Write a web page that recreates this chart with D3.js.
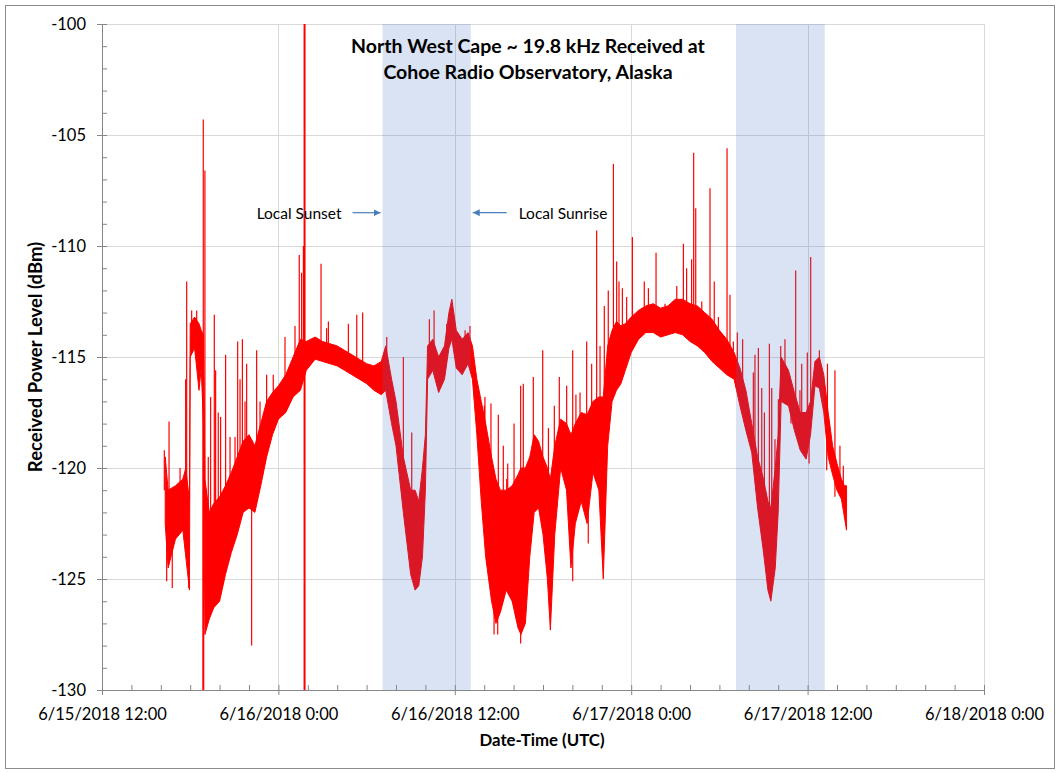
<!DOCTYPE html>
<html>
<head>
<meta charset="utf-8">
<script src="https://cdn.jsdelivr.net/npm/d3@7/dist/d3.min.js"></script>
<style>
    body { margin: 0; background: #fff; }
    svg text { font-family: Lato, "Open Sans", sans-serif; fill: #000; }
</style>
</head>
<body>
<script>
// hours after 6/15/2018 12:00 UTC, with the upper / lower edge of the noisy trace (dBm)
var bandHours = [4.3, 4.5, 5.0, 5.5, 5.7, 5.95, 6.0, 6.3, 6.6, 6.75, 6.9, 7.0, 7.3, 7.6, 8.0, 8.4, 8.8, 9.2, 9.6, 10.0,
    10.4, 10.8, 11.2, 11.6, 12.0, 12.5, 13.0, 13.5, 13.9, 14.5, 15.0, 15.5, 16.0, 16.5, 17.0, 17.5, 18.0, 18.5, 19.0, 19.3,
    19.7, 20.0, 20.5, 21.0, 21.3, 21.55, 21.8, 22.0, 22.15, 22.5, 22.9, 23.3, 23.6, 23.8, 24.1, 24.5, 24.9, 25.2, 25.5, 25.8,
    26.1, 26.5, 26.8, 27.1, 27.5, 27.9, 28.3, 28.5, 28.8, 29.1, 29.4, 29.7, 30.0, 30.3, 30.5, 30.8, 31.2, 31.6, 31.9, 32.2,
    32.6, 33.0, 33.4, 33.8, 34.1, 34.4, 34.7, 35.0, 35.3, 35.6, 36.0, 36.5, 37.0, 37.5, 38.0, 38.5, 39.0, 39.5, 40.0, 40.5,
    41.0, 41.5, 42.0, 42.5, 43.0, 43.4, 43.8, 44.2, 44.6, 45.0, 45.3, 45.5, 45.8, 46.0, 46.2, 46.7, 47.1, 47.5, 47.9, 48.2,
    48.5, 48.8, 49.1, 49.4, 49.7, 50.0, 50.3, 50.5, 50.65];

var bandHigh = [-119.5, -121, -120.8, -120.5, -120, -121.5, -113.5, -113.2, -113.5, -113.8, -114, -120.5, -122, -121.6, -121.3, -120.8, -120.2, -119.5, -118.8, -118.5,
    -119, -118, -117, -116.6, -116.3, -115.8, -115, -114.2, -114.3, -114.1, -114.3, -114.4, -114.5, -114.7, -114.9, -115.1, -115.3, -115.4, -115.2, -114.5,
    -116, -117, -119.5, -121, -121, -121.5, -120, -118.5, -114.5, -114.2, -115, -114.5, -113, -112.4, -113.8, -114.2, -113.9, -114.5, -116, -117,
    -118, -119.5, -120.5, -121, -121, -120.8, -120.3, -120, -120, -119.5, -118.5, -118.8, -119.5, -120, -120.5, -119, -117.8, -118, -118.5, -118,
    -117.5, -117.6, -117, -116.8, -116.8, -114.5, -113.8, -113.4, -113.6, -113.5, -113.2, -112.9, -112.7, -112.6, -112.8, -112.7, -112.4, -112.4, -112.6, -112.7,
    -113, -113.3, -113.8, -114.2, -114.8, -115.5, -116.5, -118, -119.5, -120.5, -121.5, -121.8, -120, -118.5, -115, -115.6, -116.6, -117.5, -117.5, -117,
    -115.2, -115, -115.8, -117.5, -119, -119.8, -120.5, -120.8, -120.8];

var bandLow = [-122.5, -124.5, -123.2, -122.8, -124, -125.5, -115, -114.6, -116.5, -115.5, -118, -127.5, -126.8, -126.3, -126, -124.8, -123.8, -123, -122, -121.8,
    -122, -120.8, -119.5, -118.5, -117.8, -117.5, -116.8, -116.5, -115.6, -115.1, -115.2, -115.3, -115.4, -115.6, -115.8, -116, -116.2, -116.5, -116.7, -116.5,
    -118, -119, -122, -124.8, -125.5, -125.3, -124, -121, -116, -115.6, -116.6, -116, -114.6, -114.2, -115.5, -115.8, -115.3, -116, -118.5, -121.5,
    -124, -126, -127, -126.5, -125.5, -126, -127.2, -127.5, -127, -124, -122, -121.8, -123, -125, -127.3, -123, -120, -121, -124.5, -122.5,
    -121.5, -122.5, -120.2, -121, -125, -119, -117, -116.5, -116.2, -115.6, -114.8, -114.2, -113.9, -113.9, -114.1, -114, -113.9, -114, -114.3, -114.5,
    -114.8, -115.2, -115.5, -115.8, -116, -117.2, -118.3, -119.3, -121.8, -123.8, -125.5, -126, -124.5, -122, -117, -117.2, -118.3, -119.2, -119.6, -118.5,
    -116.3, -116.4, -117.5, -119.5, -120.3, -121, -121.4, -122.2, -122.8];

// isolated spikes: hour and level reached (dBm)
var spikeHours = [4.24, 4.56, 5.31, 5.69, 5.76, 6.1, 6.44, 6.89, 6.89, 7.0, 7.23, 7.64, 7.73, 7.91, 8.41, 9.05, 9.23, 9.39, 9.55, 9.73,
    10.52, 10.75, 11.2, 11.65, 12.45, 13.13, 13.42, 13.58, 13.7, 13.78, 13.78, 14.9, 15.28, 15.4, 16.76, 17.33, 17.73, 19.37, 20.5, 21.07,
    22.27, 22.59, 23.45, 24.7, 25.03, 26.01, 26.46, 26.96, 27.3, 27.53, 28.03, 28.48, 28.66, 29.34, 29.98, 30.37, 31.11, 32.02, 32.52, 32.97,
    33.31, 33.65, 33.88, 34.17, 34.44, 34.79, 35.01, 35.17, 35.4, 35.69, 36.08, 36.89, 37.17, 37.69, 38.3, 38.87, 39.1, 39.55, 39.77, 40.11,
    40.25, 40.39, 40.8, 41.36, 41.65, 41.93, 42.52, 42.72, 42.95, 43.22, 43.58, 44.42, 44.65, 44.88, 45.06, 45.4, 45.56, 46.01, 46.17, 46.46,
    47.19, 47.6, 47.98, 48.21, 48.8, 49.35, 49.86, 50.2,
    4.4, 4.78, 4.97, 5.9, 7.39, 8.07, 8.71, 9.84, 10.18, 26.05, 27.6, 29.68, 30.77, 31.61, 32.24, 26.67, 26.92, 28.48, 32.02, 33.08,
    44.31, 45.78, 47.48, 50.43, 46.87, 48.1, 49.3, 49.86];
var spikeLevels = [-119.2, -117.9, -120, -116, -111.6, -112.9, -112.9, -104.3, -131, -106.6, -119.5, -113.1, -115.6, -117.5, -114.9, -118.6, -114.3, -116, -114.2, -117,
    -114.7, -117, -115.8, -115.8, -114.1, -113.6, -110.4, -111.2, -110, -95, -135, -110.8, -113.7, -113.4, -113.5, -113.1, -113, -114.1, -115, -118.4,
    -113.3, -112.9, -113.5, -113.8, -113.6, -117.2, -117.1, -117.6, -119, -120.5, -118, -116.3, -116.2, -115.9, -114.7, -118.2, -115.9, -114.7, -116.6, -114.3,
    -115.3, -109.3, -114.5, -112.7, -112, -106.3, -110.7, -111.6, -111.9, -112.3, -109.6, -111.6, -111.9, -110.3, -112.6, -112.5, -111.8, -109.9, -111, -110.6,
    -105.8, -108.3, -112.5, -107.4, -111.6, -113.2, -105.6, -112.2, -114.3, -113.9, -114.2, -114.9, -114.6, -116.4, -117.5, -114.4, -116.4, -116.9, -114.5, -114.2,
    -111.1, -115.3, -114.8, -110.5, -114.7, -115.3, -115.6, -119,
    -125.1, -125.4, -121.1, -125.4, -116.8, -117.7, -118.6, -115.3, -128, -116.8, -119.8, -118.8, -117.2, -116.3, -116.7, -127.5, -127.5, -127.9, -125.1, -123.4,
    -115.7, -118.7, -116.5, -119.9, -118, -119.8, -120.1, -121.3];

// local night (sunset -> sunrise) shading
var nightStart = ["2018-06-16T07:05:00Z", "2018-06-17T07:08:00Z"];
var nightEnd = ["2018-06-16T13:05:00Z", "2018-06-17T13:10:00Z"];

var yTicks = [-130, -125, -120, -115, -110, -105, -100];
var xTicks = ["2018-06-15T12:00:00Z", "2018-06-16T00:00:00Z", "2018-06-16T12:00:00Z",
    "2018-06-17T00:00:00Z", "2018-06-17T12:00:00Z", "2018-06-18T00:00:00Z"];
var titleLines = ["North West Cape ~ 19.8 kHz Received at", "Cohoe Radio Observatory, Alaska"];

var startTime = new Date("2018-06-15T12:00:00Z").getTime();
function hourDate(h) { return new Date(startTime + h * 3600e3); }

var margin = { top: 24, left: 102 },
    width = 882,
    height = 666;

var x = d3.scaleUtc()
    .domain([new Date(xTicks[0]), new Date(xTicks[xTicks.length - 1])])
    .range([0, width]);
var y = d3.scaleLinear()
    .domain([-130, -100])
    .range([height, 0]);

var svg = d3.select("body").append("svg")
    .attr("width", 1060)
    .attr("height", 773);

// outer frame
svg.append("rect")
    .attr("x", 5.5).attr("y", 5.5)
    .attr("width", 1049).attr("height", 763)
    .attr("fill", "#fff")
    .attr("stroke", "#8c8c8c");

var chart = svg.append("g")
    .attr("transform", "translate(" + margin.left + "," + margin.top + ")");

chart.append("clipPath").attr("id", "plotClip")
    .append("rect").attr("width", width).attr("height", height);

// gridlines
chart.append("g").selectAll("line")
    .data(yTicks.filter(function (d) { return d > -130; }))
    .enter().append("line")
    .attr("x1", 0).attr("x2", width)
    .attr("y1", function (d) { return Math.round(y(d)) + 0.5; })
    .attr("y2", function (d) { return Math.round(y(d)) + 0.5; })
    .attr("stroke", "#d9d9d9");
chart.append("g").selectAll("line")
    .data(xTicks.slice(1))
    .enter().append("line")
    .attr("x1", function (d) { return Math.round(x(new Date(d))) + 0.5; })
    .attr("x2", function (d) { return Math.round(x(new Date(d))) + 0.5; })
    .attr("y1", 0).attr("y2", height)
    .attr("stroke", "#d9d9d9");

// signal trace
var band = bandHours.map(function (h, i) {
    return { date: hourDate(h), hi: bandHigh[i], lo: bandLow[i] };
});
var mid = d3.scaleLinear()
    .domain(bandHours)
    .range(bandHours.map(function (h, i) { return (bandHigh[i] + bandLow[i]) / 2; }))
    .clamp(true);

var trace = chart.append("g").attr("clip-path", "url(#plotClip)");

trace.append("path")
    .datum(band)
    .attr("d", d3.area()
        .x(function (d) { return x(d.date); })
        .y0(function (d) { return y(d.lo); })
        .y1(function (d) { return y(d.hi); }))
    .attr("fill", "#ff0000")
    .attr("stroke", "#ff0000")
    .attr("stroke-width", 1);

trace.selectAll(".spike")
    .data(spikeHours.map(function (h, i) { return { h: h, v: spikeLevels[i] }; }))
    .enter().append("line")
    .attr("class", "spike")
    .attr("x1", function (d) { return x(hourDate(d.h)); })
    .attr("x2", function (d) { return x(hourDate(d.h)); })
    .attr("y1", function (d) { return y(mid(d.h)); })
    .attr("y2", function (d) { return y(d.v); })
    .attr("stroke", "#ff0000")
    .attr("stroke-width", function (d) { return (d.v > -100 || d.v < -130) ? 2 : 1.2; });

// night shading (semi-transparent, over the trace)
chart.append("g").selectAll("rect")
    .data(nightStart)
    .enter().append("rect")
    .attr("x", function (d) { return x(new Date(d)); })
    .attr("width", function (d, i) { return x(new Date(nightEnd[i])) - x(new Date(d)); })
    .attr("y", 0).attr("height", height)
    .attr("fill", "#4472c4")
    .attr("fill-opacity", 0.2);

// minor ticks (inside)
var minorY = chart.append("g")
    .call(d3.axisLeft(y).ticks(30).tickSize(-5).tickFormat(""));
var minorX = chart.append("g")
    .attr("transform", "translate(0," + height + ")")
    .call(d3.axisBottom(x).ticks(d3.utcHour.every(2)).tickSize(-5).tickFormat(""));

// major axes
var yAxis = chart.append("g")
    .call(d3.axisLeft(y).tickValues(yTicks).tickSize(5).tickPadding(11)
        .tickFormat(function (d) { return String(d); }));
var fmt = d3.utcFormat("%-m/%-d/%Y %-H:%M");
var xAxis = chart.append("g")
    .attr("transform", "translate(0," + height + ")")
    .call(d3.axisBottom(x).tickValues(xTicks.map(function (d) { return new Date(d); }))
        .tickSize(5).tickPadding(13).tickFormat(fmt));

[minorY, minorX, yAxis, xAxis].forEach(function (g) {
    g.selectAll("path, line").attr("stroke", "#868686");
});
minorY.select(".domain").remove();
minorX.select(".domain").remove();
chart.selectAll(".tick text")
    .style("font-family", "Lato, sans-serif")
    .style("font-size", "16.5px")
    .attr("fill", "#000");

// title
chart.append("text")
    .attr("x", 426).attr("y", 29)
    .attr("text-anchor", "middle")
    .style("font-size", "19.5px")
    .style("font-weight", "bold")
    .selectAll("tspan")
    .data(titleLines)
    .enter().append("tspan")
    .attr("x", 426)
    .attr("dy", function (d, i) { return i == 0 ? 0 : 26; })
    .text(function (d) { return d; });

// sunset / sunrise annotations
var arrowY = y(-108.5);
var defs = svg.append("defs");
defs.append("marker")
    .attr("id", "arrowHead")
    .attr("viewBox", "0 0 10 10")
    .attr("refX", 10).attr("refY", 5)
    .attr("markerWidth", 7).attr("markerHeight", 7)
    .attr("markerUnits", "userSpaceOnUse")
    .attr("orient", "auto")
    .append("path").attr("d", "M0,0L10,5L0,10Z").attr("fill", "#4a7ebb");

var sunsetX = x(new Date(nightStart[0]));
var sunriseX = x(new Date(nightEnd[0]));
chart.append("line")
    .attr("x1", sunsetX - 30).attr("x2", sunsetX - 2)
    .attr("y1", arrowY).attr("y2", arrowY)
    .attr("stroke", "#4a7ebb").attr("stroke-width", 1.2)
    .attr("marker-end", "url(#arrowHead)");
chart.append("line")
    .attr("x1", sunriseX + 36).attr("x2", sunriseX + 2)
    .attr("y1", arrowY).attr("y2", arrowY)
    .attr("stroke", "#4a7ebb").attr("stroke-width", 1.2)
    .attr("marker-end", "url(#arrowHead)");
chart.append("text")
    .attr("x", sunsetX - 41).attr("y", arrowY + 6)
    .attr("text-anchor", "end")
    .style("font-size", "15.5px")
    .attr("fill", "#262626")
    .text("Local Sunset");
chart.append("text")
    .attr("x", sunriseX + 48).attr("y", arrowY + 6)
    .style("font-size", "15.5px")
    .attr("fill", "#262626")
    .text("Local Sunrise");

// axis titles
svg.append("text")
    .attr("transform", "translate(42," + (margin.top + height / 2) + ") rotate(-90)")
    .attr("text-anchor", "middle")
    .style("font-size", "18.5px")
    .style("font-weight", "bold")
    .text("Received Power Level (dBm)");
svg.append("text")
    .attr("x", 542).attr("y", 746)
    .attr("text-anchor", "middle")
    .style("font-size", "16.8px")
    .style("font-weight", "bold")
    .text("Date-Time (UTC)");
</script>
</body>
</html>
